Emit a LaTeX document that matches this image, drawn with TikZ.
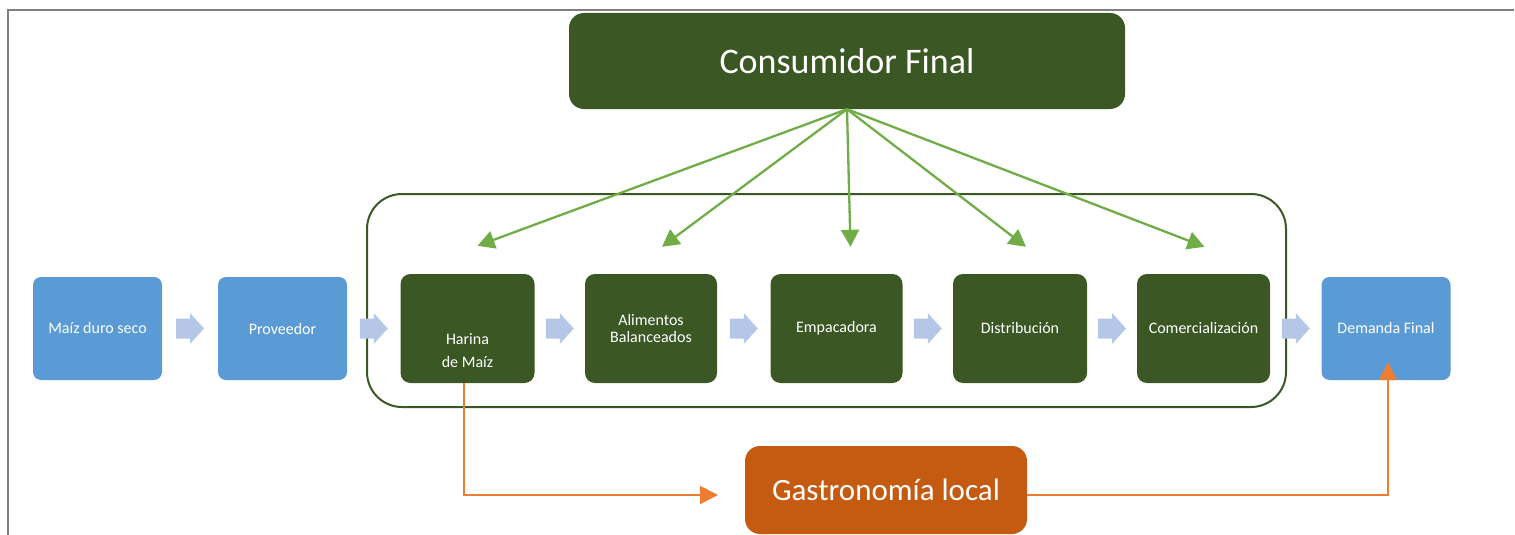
\documentclass[tikz,border=0pt]{standalone}
\usepackage{fontspec}
\setmainfont{Carlito}
\usetikzlibrary{arrows.meta,calc}
\definecolor{dkgreen}{HTML}{3A5724}
\definecolor{boxblue}{HTML}{5B9BD5}
\definecolor{chevblue}{HTML}{B4C7E7}
\definecolor{lgreen}{HTML}{70AD47}
\definecolor{orline}{HTML}{ED7D31}
\definecolor{orfill}{HTML}{C55A11}
\definecolor{framegray}{HTML}{7F7F7F}
\tikzset{
  bluebox/.style={rectangle, rounded corners=8pt, fill=boxblue, text=white,
    minimum width=129pt, minimum height=103pt, inner sep=0pt,
    font=\fontsize{16}{17}\selectfont, align=center},
  greenbox/.style={rectangle, rounded corners=10pt, fill=dkgreen, text=white,
    minimum width=133pt, minimum height=109pt, inner sep=0pt,
    font=\fontsize{16}{17}\selectfont, align=center},
  bigbox/.style={rectangle, fill=dkgreen, text=white, inner sep=0pt},
  garrow/.style={draw=lgreen, line width=2.3pt, -{Triangle[length=17pt,width=18pt]}},
  oarrow/.style={draw=orline, line width=2pt, -{Triangle[length=18pt,width=18pt]}},
  chev/.pic={\fill[chevblue] (-14pt,-10pt) -- (0pt,-10pt) -- (0pt,-15.5pt) -- (14pt,0pt)
      -- (0pt,15.5pt) -- (0pt,10pt) -- (-14pt,10pt) -- cycle;}
}
\begin{document}
\begin{tikzpicture}[x=1pt,y=-1pt]
\useasboundingbox (0,0) rectangle (1515,535);
% frame
\draw[framegray, line width=2pt] (8,535) -- (8,10) -- (1514,10);
% group outline
\draw[dkgreen, line width=2pt, rounded corners=35pt] (367,194) rectangle (1286,407);
% top box
\node[bigbox, rounded corners=15pt, minimum width=556pt, minimum height=96pt,
  font=\fontsize{36}{40}\selectfont] (Cons) at (847,61) {Consumidor Final};
% row
\node[bluebox] (Maiz) at (97.5,328.5) {Maíz duro seco};
\node[bluebox] (Prov) at (282.5,328.5) {Proveedor};
\node[greenbox, minimum width=134pt] (Har) at (467.5,328.5)
  {\raisebox{-28pt}[0pt][0pt]{\begin{tabular}{@{}c@{}}Harina\\[6pt]de Maíz\end{tabular}}};
\node[greenbox, minimum width=132pt] (Ali) at (651,328.5) {Alimentos\\Balanceados};
\node[greenbox, minimum width=132pt] (Emp) at (836.5,328.5) {Empacadora};
\node[greenbox, minimum width=134pt] (Dis) at (1020,328.5) {Distribución};
\node[greenbox] (Com) at (1203.5,328.5) {Comercialización};
\node[bluebox] (Dem) at (1386,328.5) {Demanda Final};
% bottom box
\node[bigbox, fill=orfill, rounded corners=15pt, minimum width=282pt, minimum height=88pt,
  font=\fontsize{31}{36}\selectfont] (Gas) at (886,490) {Gastronomía local};
% chevrons
\pic at ($(Maiz.east)!0.5!(Prov.west)$) {chev};
\pic at ($(Prov.east)!0.5!(Har.west)$) {chev};
\pic at ($(Har.east)!0.5!(Ali.west)$) {chev};
\pic at ($(Ali.east)!0.5!(Emp.west)$) {chev};
\pic at ($(Emp.east)!0.5!(Dis.west)$) {chev};
\pic at ($(Dis.east)!0.5!(Com.west)$) {chev};
\pic at ($(Com.east)!0.5!(Dem.west)$) {chev};
% green arrows
\draw[garrow] (Cons.south) -- ([shift={(10pt,28pt)}]Har.north);
\draw[garrow] (Cons.south) -- ([shift={(11pt,27pt)}]Ali.north);
\draw[garrow] (Cons.south) -- ([shift={(14pt,27pt)}]Emp.north);
\draw[garrow] (Cons.south) -- ([shift={(6pt,27pt)}]Dis.north);
\draw[garrow] (Cons.south) -- ([shift={(1pt,27pt)}]Com.north);
% orange arrows
\coordinate (gin) at (718,495);
\draw[oarrow] ([xshift=-4pt]Har.south) |- (gin);
\draw[oarrow] ([yshift=-5pt]Gas.east) -| ([xshift=2pt,yshift=18pt]Dem.south);
\end{tikzpicture}
\end{document}
